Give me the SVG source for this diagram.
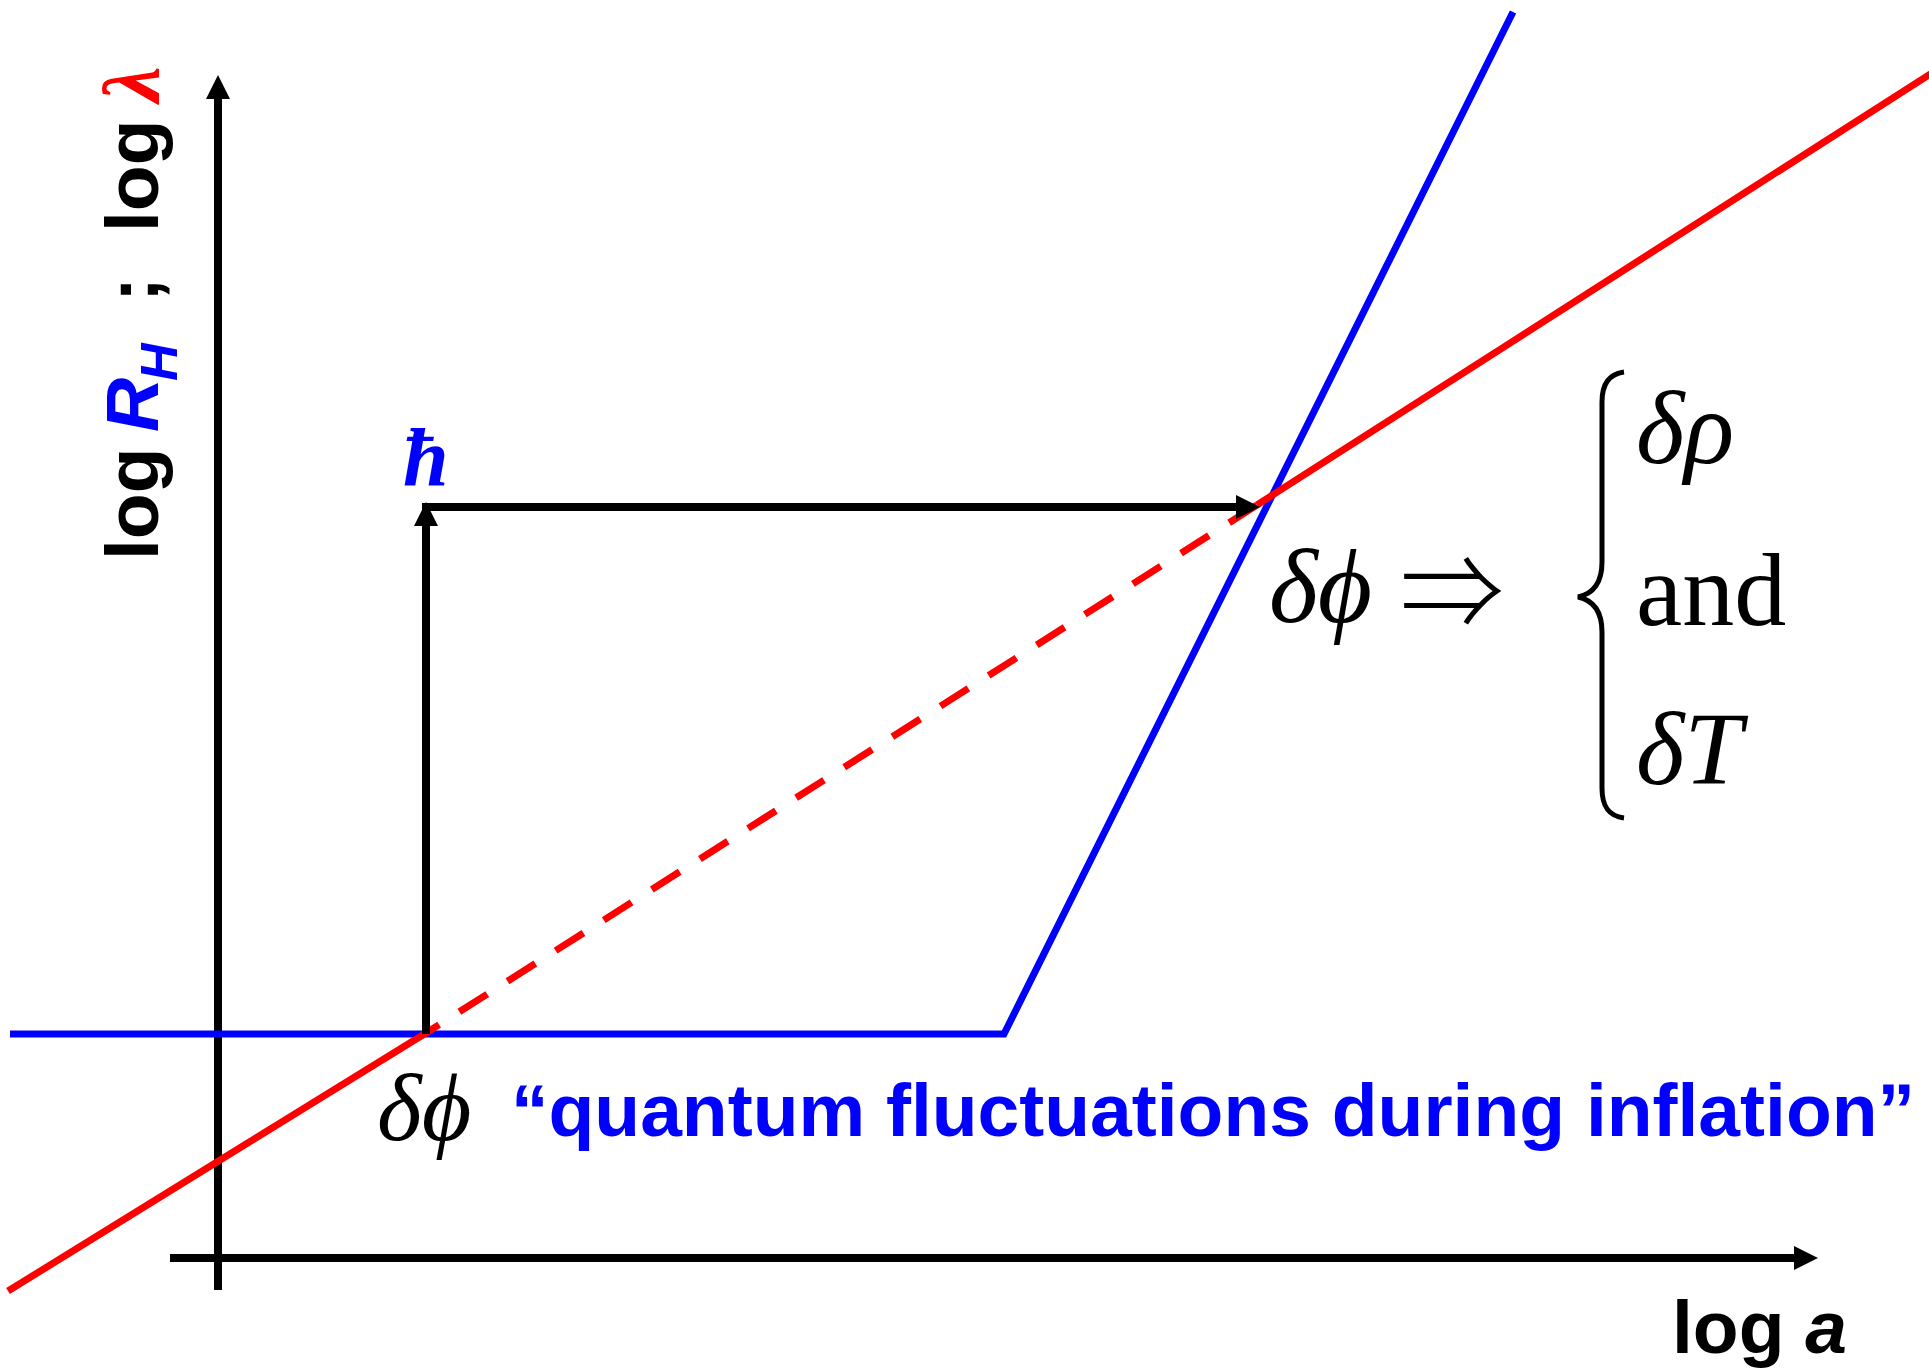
<svg xmlns="http://www.w3.org/2000/svg" width="1929" height="1372" viewBox="0 0 1929 1372">
<style>
.ax{stroke:#000;stroke-width:8;fill:none}
.blue{stroke:#0000FF;stroke-width:7;fill:none}
.red{stroke:#FF0000;stroke-width:7;fill:none}
.sans{font-family:"Liberation Sans",Arial,sans-serif;font-weight:bold}
.serif{font-family:"Liberation Serif","Times New Roman",serif}
.it{font-style:italic}
</style>
<defs>
<marker id="ah" viewBox="0 0 24 24" refX="4" refY="12" markerWidth="24" markerHeight="24" markerUnits="userSpaceOnUse" orient="auto">
<path d="M0,0 L24,12 L0,24 z" fill="#000"/>
</marker>
</defs>
<rect width="1929" height="1372" fill="#fff"/>
<g id="axes">
<line class="ax" x1="218" y1="1290" x2="218" y2="95" marker-end="url(#ah)"/>
<line class="ax" x1="170" y1="1258" x2="1798" y2="1258" marker-end="url(#ah)"/>
</g>
<g id="curves">
<polyline class="blue" points="10,1034 1004,1034 1513,12"/>
<line class="red" x1="8" y1="1291" x2="426" y2="1033"/>
<line class="red" x1="1257" y1="505" x2="1935" y2="71"/>
<line class="red" x1="1257" y1="505" x2="426" y2="1033" stroke-dasharray="33 24"/>
</g>
<g id="connectors">
<line class="ax" x1="426" y1="1034" x2="426" y2="522" marker-end="url(#ah)"/>
<line class="ax" x1="422" y1="507" x2="1240" y2="507" marker-end="url(#ah)"/>
</g>
<g id="ylabel">
<text class="sans" font-size="75" transform="rotate(-90)" x="-560" y="158"><tspan fill="#000">log </tspan><tspan x="-432" fill="#0000FF" font-style="italic">R</tspan><tspan x="-381" dy="19" font-size="52" fill="#0000FF" font-style="italic">H</tspan><tspan x="-302" dy="-19" fill="#000">;</tspan><tspan x="-232" fill="#000">log</tspan></text>
<text class="serif it" font-size="80" font-weight="bold" fill="#FF0000" transform="rotate(-90)" x="-102" y="158">λ</text>
</g>
<g id="xlabel">
<text class="sans" font-size="75" x="1672" y="1353" fill="#000">log <tspan font-style="italic">a</tspan></text>
</g>
<g id="hbar">
<text class="serif it" font-size="82" font-weight="bold" fill="#0000FF" x="403" y="485">ħ</text>
</g>
<g id="bottom-label">
<text class="serif it" font-size="96" fill="#000" x="377" y="1140">δϕ</text>
<text class="sans" font-size="75" fill="#0000FF" x="511" y="1136">“quantum fluctuations during inflation”</text>
</g>
<g id="result">
<text class="serif it" font-size="105" fill="#000" x="1269" y="622">δϕ</text>
<text font-family="'Noto Sans CJK JP', sans-serif" font-size="104" font-weight="300" fill="#000" x="1400" y="630">⇒</text>
<path d="M1624,372 C1608,374 1602,385 1602,402 L1602,562 C1602,584 1592,594 1578,597 C1592,600 1602,610 1602,632 L1602,788 C1602,806 1608,816 1624,818" fill="none" stroke="#000" stroke-width="5"/>
<text class="serif it" font-size="104" fill="#000" x="1636" y="463">δρ</text>
<text class="serif" font-size="104" fill="#000" x="1636" y="625">and</text>
<text class="serif it" font-size="104" fill="#000" x="1636" y="784">δT</text>
</g>
</svg>
